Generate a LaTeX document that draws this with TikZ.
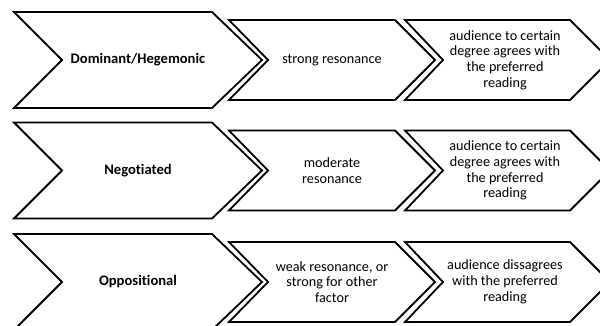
\documentclass[tikz,border=0pt]{standalone}
\usepackage{fontspec}
\setmainfont{Carlito}[Ligatures=NoCommon]
\begin{document}
\begin{tikzpicture}[x=1pt,y=-1pt,
  chev/.style={draw=black,fill=white,line width=1.8pt,line join=miter},
  biglabel/.style={font=\fontsize{14.6}{16}\selectfont\bfseries,align=center,inner sep=0pt},
  smalllabel/.style={font=\fontsize{14.2}{15.8}\selectfont,align=center,inner sep=0pt}]
\fill[white] (0,0) rectangle (600,326);
\useasboundingbox (0,0) rectangle (600,326);
\clip (0,0) rectangle (600,326);
\foreach \c/\i in {60/1,170.5/2,282/3}{
  \draw[chev] (14,\c-48) -- (212,\c-48) -- (262,\c) -- (212,\c+48) -- (14,\c+48) -- (62,\c) -- cycle;
  \draw[chev] (229,\c-40) -- (395,\c-40) -- (435,\c) -- (395,\c+40) -- (229,\c+40) -- (268,\c) -- cycle;
  \draw[chev] (405,\c-40) -- (570,\c-40) -- (610,\c) -- (570,\c+40) -- (405,\c+40) -- (443,\c) -- cycle;
}
\node[biglabel] (l1) at (138,60) {Dominant/Hegemonic};
\node[biglabel] (l2) at (138,170.5) {Negotiated};
\node[biglabel] (l3) at (138,282) {Oppositional};
\node[smalllabel] (m1) at (332,60) {strong resonance};
\node[smalllabel] (m2) at (332,170.5) {moderate\\resonance};
\node[smalllabel] (m3) at (332,282) {weak resonance, or\\strong for other\\factor};
\node[smalllabel] (r1) at (505,60) {audience to certain\\degree agrees with\\the preferred\\reading};
\node[smalllabel] (r2) at (505,170.5) {audience to certain\\degree agrees with\\the preferred\\reading};
\node[smalllabel] (r3) at (505,282) {audience dissagrees\\with the preferred\\reading};
\end{tikzpicture}
\end{document}
